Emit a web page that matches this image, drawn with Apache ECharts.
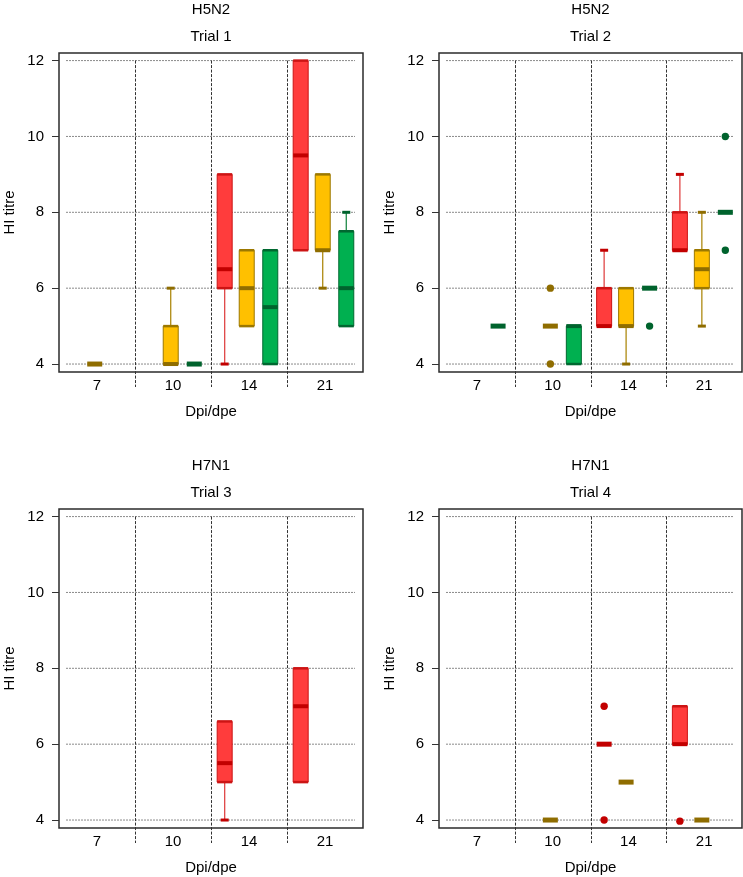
<!DOCTYPE html>
<html>
<head>
<meta charset="utf-8">
<script src="https://cdn.jsdelivr.net/npm/echarts@6/dist/echarts.min.js"></script>
<style>
  html, body { margin: 0; padding: 0; background: #fff; }
  #main { width: 743px; height: 877px; }
</style>
</head>
<body>
<div id="main"></div>
<script>
// categories and ticks
const categories = ['7', '10', '14', '21'];
const yTicks = [4, 6, 8, 10, 12];
const virusNames = ['H5N2', 'H5N2', 'H7N1', 'H7N1'];
const trialNames = ['Trial 1', 'Trial 2', 'Trial 3', 'Trial 4'];

// [lower whisker, Q1, median, Q3, upper whisker] for each category, null = no box
const trial1Red = [null, null, [4, 6, 6.5, 9, 9], [7, 7, 9.5, 12, 12]];
const trial1Yellow = [[4, 4, 4, 4, 4], [4, 4, 4, 5, 6], [5, 5, 6, 7, 7], [6, 7, 7, 9, 9]];
const trial1Green = [null, [4, 4, 4, 4, 4], [4, 4, 5.5, 7, 7], [5, 5, 6, 7.5, 8]];

const trial2Red = [null, null, [5, 5, 5, 6, 7], [7, 7, 7, 8, 9]];
const trial2Yellow = [null, [5, 5, 5, 5, 5], [4, 5, 5, 6, 6], [5, 6, 6.5, 7, 8]];
const trial2Green = [[5, 5, 5, 5, 5], [4, 4, 5, 5, 5], [6, 6, 6, 6, 6], [8, 8, 8, 8, 8]];

const trial3Red = [null, null, [4, 5, 5.5, 6.6, 6.6], [5, 5, 7, 8, 8]];
const trial3Yellow = [null, null, null, null];
const trial3Green = [null, null, null, null];

const trial4Red = [null, null, [6, 6, 6, 6, 6], [6, 6, 6, 7, 7]];
const trial4Yellow = [null, [4, 4, 4, 4, 4], [5, 5, 5, 5, 5], [4, 4, 4, 4, 4]];
const trial4Green = [null, null, null, null];

// outliers: [category index, value]
const trial2YellowOut = [[1, 6], [1, 4]];
const trial2GreenOut = [[2, 5], [3, 10], [3, 7]];
const trial4RedOut = [[2, 7], [2, 4], [3, 3.97]];

const panels = [
  { boxes: [trial1Red, trial1Yellow, trial1Green], outliers: [[], [], []] },
  { boxes: [trial2Red, trial2Yellow, trial2Green], outliers: [[], trial2YellowOut, trial2GreenOut] },
  { boxes: [trial3Red, trial3Yellow, trial3Green], outliers: [[], [], []] },
  { boxes: [trial4Red, trial4Yellow, trial4Green], outliers: [trial4RedOut, [], []] }
];

const grids = [
  { left: 59, top: 53, width: 304, height: 319 },
  { left: 439, top: 53, width: 303, height: 319 },
  { left: 59, top: 509, width: 304, height: 319 },
  { left: 439, top: 509, width: 303, height: 319 }
];

const groupStyle = [
  { fill: '#ff3c3c', dark: '#c20000', edge: '#cc1414', whisker: '#e04646' },
  { fill: '#ffc000', dark: '#8f6d00', edge: '#9c7800', whisker: '#ae8a12' },
  { fill: '#00b050', dark: '#00632d', edge: '#006830', whisker: '#1f8a48' }
];
const groupOffset = [-0.32, -0.03, 0.28];
const BOX_W = 15;
const FONT = 'Liberation Sans, Arial, Helvetica, sans-serif';
const FS = 15;

function renderGridLines(params, api) {
  const cs = params.coordSys;
  const y = api.coord([0, api.value(0)])[1];
  return {
    type: 'line',
    shape: { x1: cs.x + 7, y1: y, x2: cs.x + cs.width - 8, y2: y },
    style: { stroke: '#8a8a8a', lineWidth: 1, lineDash: [2, 1] }
  };
}

function renderSeparators(params, api) {
  const cs = params.coordSys;
  const c = api.coord([api.value(0), 12]);
  const x = Math.round(c[0] + api.size([1, 0])[0] / 2) + 0.5;
  return {
    type: 'line',
    shape: { x1: x, y1: c[1], x2: x, y2: cs.y + cs.height + 15 },
    style: { stroke: '#333', lineWidth: 1, lineDash: [3, 1.5] }
  };
}

function renderBox(params, api) {
  const cat = api.value(0);
  const g = groupStyle[api.value(1)];
  const lo = api.value(2), q1 = api.value(3), med = api.value(4), q3 = api.value(5), hi = api.value(6);
  const cx = api.coord([cat, med])[0] + groupOffset[api.value(1)] * api.size([1, 0])[0];
  const y = v => api.coord([cat, v])[1];
  const hw = BOX_W / 2;
  const children = [];
  if (hi > q3) {
    children.push({ type: 'line', shape: { x1: cx, y1: y(q3), x2: cx, y2: y(hi) }, style: { stroke: g.whisker, lineWidth: 1.3 } });
    children.push({ type: 'line', shape: { x1: cx - 4, y1: y(hi), x2: cx + 4, y2: y(hi) }, style: { stroke: g.dark, lineWidth: 3 } });
  }
  if (lo < q1) {
    children.push({ type: 'line', shape: { x1: cx, y1: y(q1), x2: cx, y2: y(lo) }, style: { stroke: g.whisker, lineWidth: 1.3 } });
    children.push({ type: 'line', shape: { x1: cx - 4, y1: y(lo), x2: cx + 4, y2: y(lo) }, style: { stroke: g.dark, lineWidth: 3 } });
  }
  if (q3 > q1) {
    children.push({ type: 'rect', shape: { x: cx - hw, y: y(q3), width: BOX_W, height: y(q1) - y(q3) }, style: { fill: g.fill, stroke: g.edge, lineWidth: 1 } });
    children.push({ type: 'line', shape: { x1: cx - hw, y1: y(q3), x2: cx + hw, y2: y(q3) }, style: { stroke: g.edge, lineWidth: 2.5 } });
    children.push({ type: 'line', shape: { x1: cx - hw, y1: y(q1), x2: cx + hw, y2: y(q1) }, style: { stroke: g.edge, lineWidth: 2.5 } });
    children.push({ type: 'line', shape: { x1: cx - hw, y1: y(med), x2: cx + hw, y2: y(med) }, style: { stroke: g.dark, lineWidth: 4 } });
  } else {
    children.push({ type: 'line', shape: { x1: cx - hw, y1: y(med), x2: cx + hw, y2: y(med) }, style: { stroke: g.dark, lineWidth: 5 } });
  }
  return { type: 'group', children: children };
}

function renderOutlier(params, api) {
  const cat = api.value(0);
  const grp = api.value(1);
  const p = api.coord([cat, api.value(2)]);
  const cx = p[0] + groupOffset[grp] * api.size([1, 0])[0];
  return { type: 'circle', shape: { cx: cx, cy: p[1], r: 3.7 }, style: { fill: groupStyle[grp].dark } };
}

const xAxes = [], yAxes = [], series = [], graphics = [];
grids.forEach((gr, i) => {
  xAxes.push({
    type: 'category', gridIndex: i, data: categories,
    axisLine: { show: false }, axisTick: { show: false }, splitLine: { show: false },
    axisLabel: { color: '#000', fontSize: FS, fontFamily: FONT, margin: 6 },
    name: 'Dpi/dpe', nameLocation: 'middle', nameGap: 32,
    nameTextStyle: { color: '#000', fontSize: FS, fontFamily: FONT }
  });
  yAxes.push({
    type: 'value', gridIndex: i, min: 3.79, max: 12.2,
    axisLine: { show: false }, splitLine: { show: false },
    axisTick: { show: true, length: 7, customValues: yTicks, lineStyle: { color: '#333' } },
    axisLabel: { color: '#000', fontSize: FS, fontFamily: FONT, margin: 15, customValues: yTicks },
    name: 'HI titre', nameLocation: 'middle', nameGap: 42, nameRotate: 90,
    nameTextStyle: { color: '#000', fontSize: FS, fontFamily: FONT }
  });

  const boxData = [];
  const outData = [];
  panels[i].boxes.forEach((list, grp) => {
    list.forEach((st, cat) => { if (st) boxData.push([cat, grp].concat(st)); });
  });
  panels[i].outliers.forEach((list, grp) => {
    list.forEach(o => outData.push([o[0], grp, o[1]]));
  });

  series.push({ type: 'custom', xAxisIndex: i, yAxisIndex: i, silent: true, data: yTicks.map(v => [v]), encode: { y: 0 }, renderItem: renderGridLines });
  series.push({ type: 'custom', xAxisIndex: i, yAxisIndex: i, silent: true, data: [[0], [1], [2]], encode: { x: 0 }, renderItem: renderSeparators });
  series.push({ type: 'custom', xAxisIndex: i, yAxisIndex: i, data: boxData, encode: { x: 0, y: [2, 3, 4, 5, 6] }, renderItem: renderBox });
  series.push({ type: 'custom', xAxisIndex: i, yAxisIndex: i, data: outData, encode: { x: 0, y: 2 }, renderItem: renderOutlier });

  const cx = gr.left + gr.width / 2;
  graphics.push({ type: 'text', x: cx, y: gr.top - 43, style: { text: virusNames[i], fill: '#000', font: FS + 'px ' + FONT, align: 'center', verticalAlign: 'middle' } });
  graphics.push({ type: 'text', x: cx, y: gr.top - 16, style: { text: trialNames[i], fill: '#000', font: FS + 'px ' + FONT, align: 'center', verticalAlign: 'middle' } });
});

const chart = echarts.init(document.getElementById('main'));
chart.setOption({
  animation: false,
  backgroundColor: '#fff',
  grid: grids.map(g => Object.assign({ show: true, borderColor: '#2b2b2b', borderWidth: 1.5, backgroundColor: 'transparent' }, g)),
  xAxis: xAxes,
  yAxis: yAxes,
  series: series,
  graphic: graphics
});
</script>
</body>
</html>
